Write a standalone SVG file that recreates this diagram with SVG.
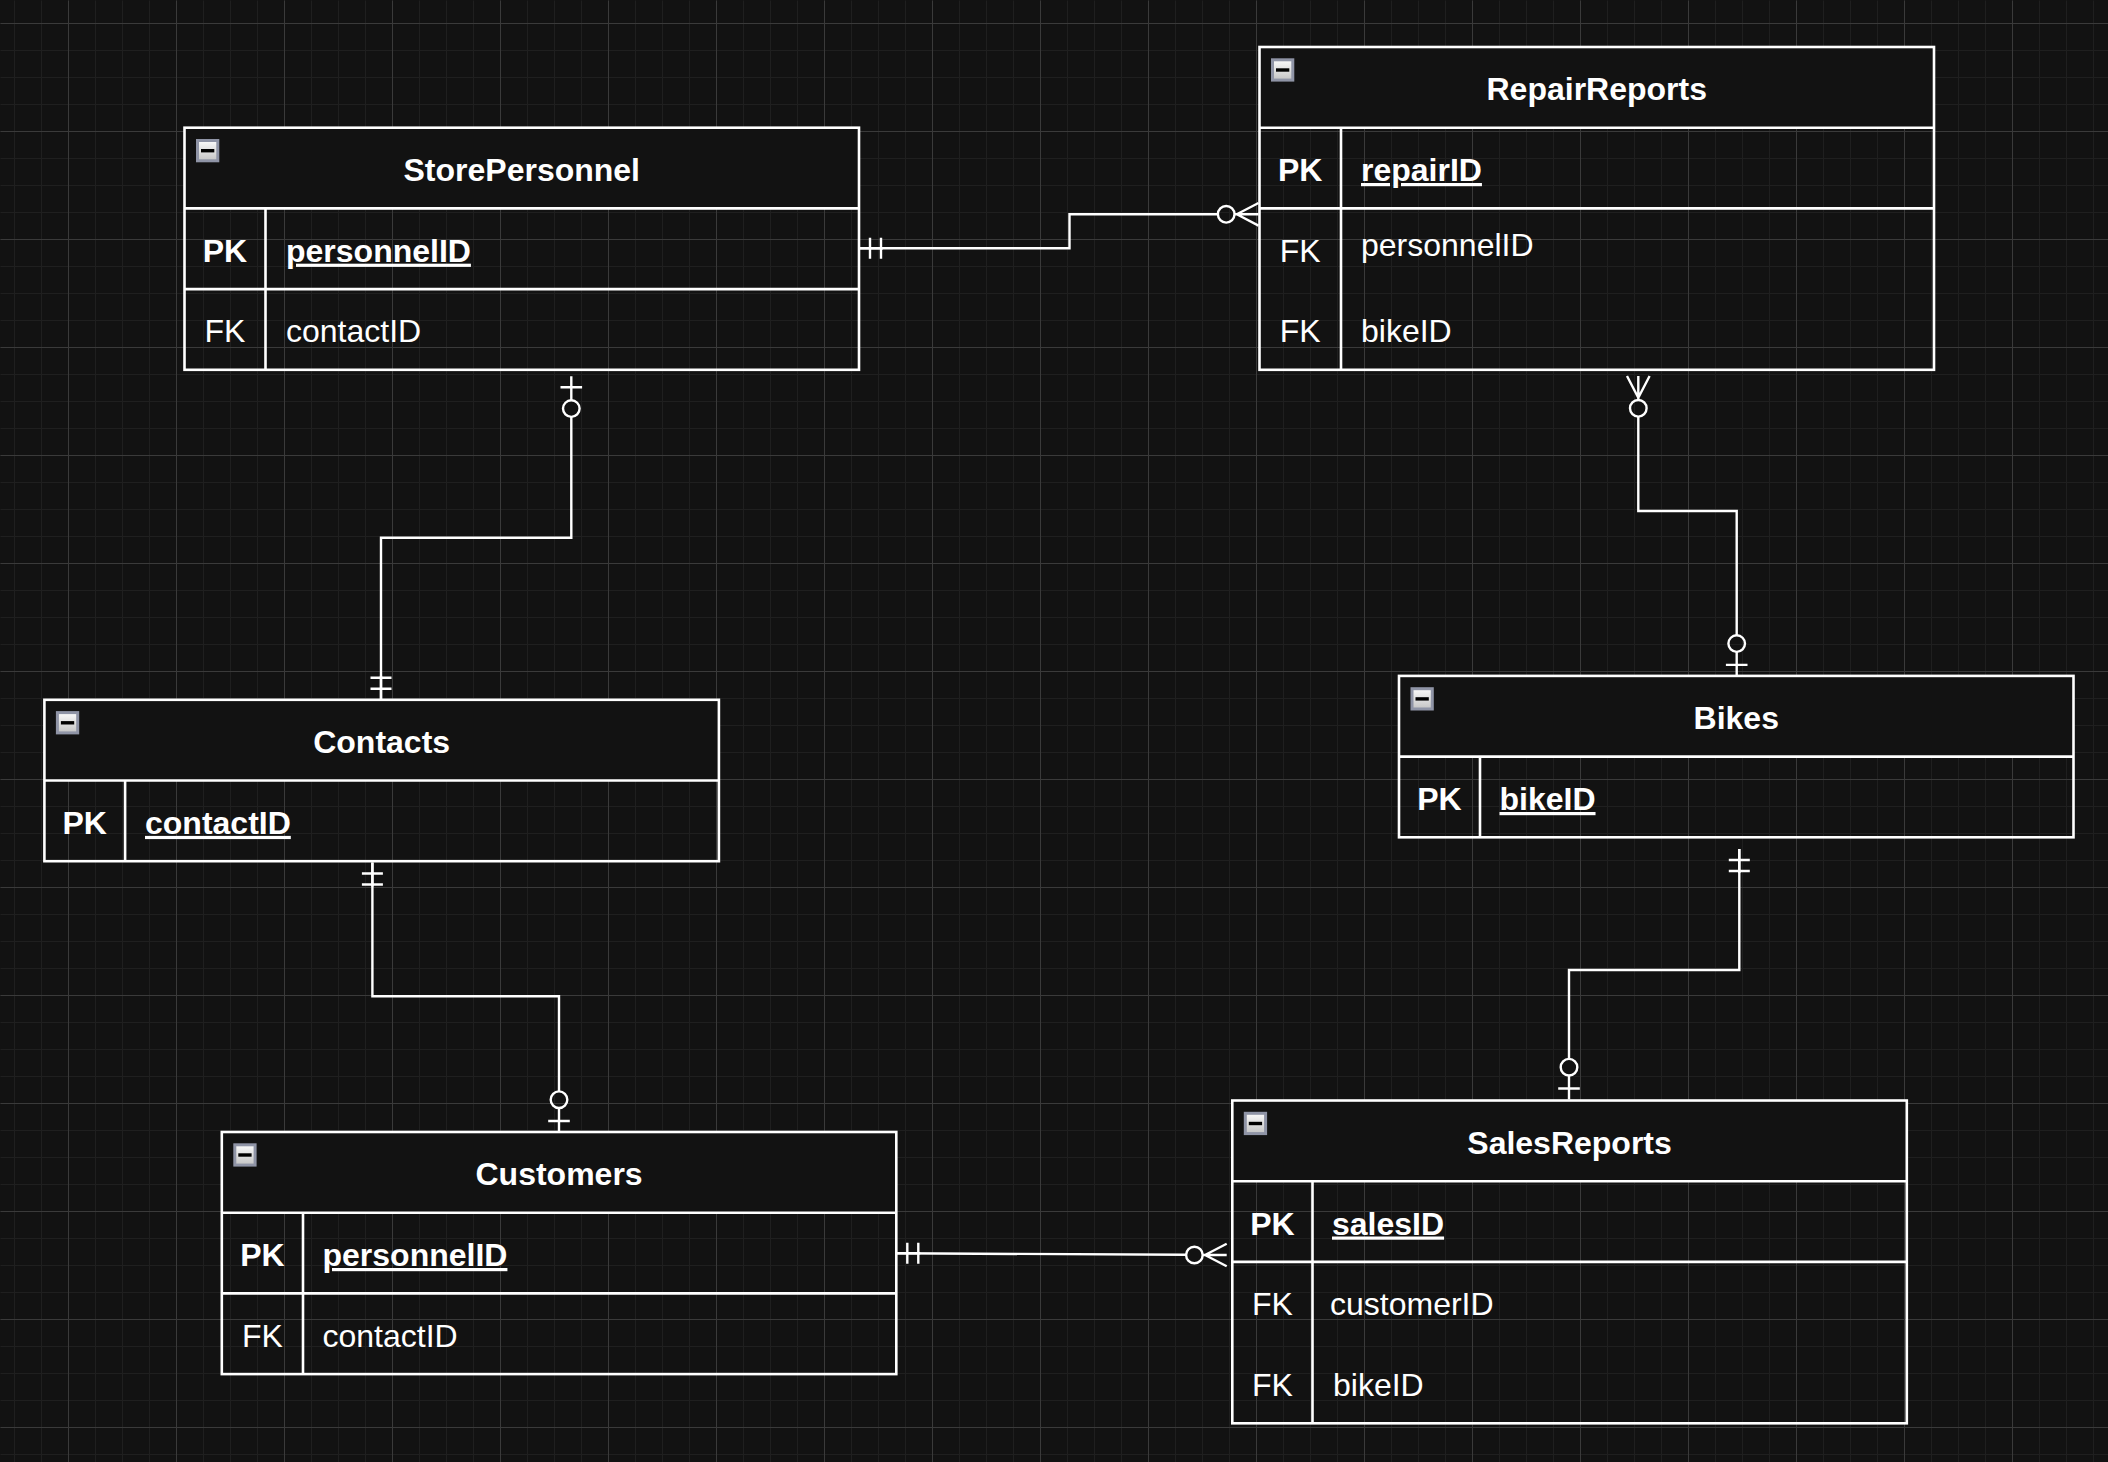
<svg xmlns="http://www.w3.org/2000/svg" xmlns:xlink="http://www.w3.org/1999/xlink" width="2108" height="1462" viewBox="0 0 2108 1462">
<defs>
<style>
.bg{fill:#121212}
.gmin{fill:none;stroke:#1f1f1f;stroke-width:1}
.gmaj{fill:none;stroke:#3a3a3a;stroke-width:1}
.hd{fill:#121212;stroke:none}
.bx{fill:none;stroke:#ffffff;stroke-width:2.6}
.sep{fill:none;stroke:#ffffff;stroke-width:2.6}
.con{fill:none;stroke:#ffffff;stroke-width:2.4}
text{font-family:"Liberation Sans",Arial,Helvetica,sans-serif;font-size:32px;fill:#ffffff}
.t{font-weight:bold;text-anchor:middle}
.k{font-weight:bold;text-anchor:middle}
.kf{text-anchor:middle}
.pk{font-weight:bold;text-decoration:underline}
</style>
<linearGradient id="ig" x1="0" y1="0" x2="0" y2="1">
<stop offset="0" stop-color="#fbfbfb"/>
<stop offset="1" stop-color="#c4c4c4"/>
</linearGradient>
<g id="icon">
<rect x="1.5" y="1.5" width="20.3" height="20.3" fill="url(#ig)" stroke="#8f94a6" stroke-width="3"/>
<rect x="5" y="10" width="13.3" height="3.4" fill="#000000"/>
</g>
<g id="mOne" fill="none" stroke="#ffffff" stroke-width="2.4">
<path d="M-11 -10.5V10.5M-22 -10.5V10.5M-24 0H0"/>
</g>
<g id="zOne" fill="none" stroke="#ffffff" stroke-width="2.4">
<path d="M-11 -10.8V10.8M-24 0H0"/>
<circle cx="-32.3" cy="0" r="8.3"/>
</g>
<g id="zMany" fill="none" stroke="#ffffff" stroke-width="2.4">
<path d="M-21.7 0L0 -11.3M-21.7 0L0 11.3M-24 0H0"/>
<circle cx="-32.3" cy="0" r="8.3"/>
</g>
</defs>

<rect class="bg" x="0" y="0" width="2108" height="1462"/>

<g id="grid" transform="translate(0.5,0.5)">
<path class="gmin" d="M14 0v1462m27-1462v1462m27-1462v1462m27-1462v1462m27-1462v1462m27-1462v1462m27-1462v1462m27-1462v1462m27-1462v1462m27-1462v1462m27-1462v1462m27-1462v1462m27-1462v1462m27-1462v1462m27-1462v1462m27-1462v1462m27-1462v1462m27-1462v1462m27-1462v1462m27-1462v1462m27-1462v1462m27-1462v1462m27-1462v1462m27-1462v1462m27-1462v1462m27-1462v1462m27-1462v1462m27-1462v1462m27-1462v1462m27-1462v1462m27-1462v1462m27-1462v1462m27-1462v1462m27-1462v1462m27-1462v1462m27-1462v1462m27-1462v1462m27-1462v1462m27-1462v1462m27-1462v1462m27-1462v1462m27-1462v1462m27-1462v1462m27-1462v1462m27-1462v1462m27-1462v1462m27-1462v1462m27-1462v1462m27-1462v1462m27-1462v1462m27-1462v1462m27-1462v1462m27-1462v1462m27-1462v1462m27-1462v1462m27-1462v1462m27-1462v1462m27-1462v1462m27-1462v1462m27-1462v1462m27-1462v1462m27-1462v1462m27-1462v1462m27-1462v1462m27-1462v1462m27-1462v1462m27-1462v1462m27-1462v1462m27-1462v1462m27-1462v1462m27-1462v1462m27-1462v1462m27-1462v1462m27-1462v1462m27-1462v1462m27-1462v1462m27-1462v1462m27-1462v1462m27-1462v1462"/>
<path class="gmin" d="M0 23h2108m-2108 27h2108m-2108 27h2108m-2108 27h2108m-2108 27h2108m-2108 27h2108m-2108 27h2108m-2108 27h2108m-2108 27h2108m-2108 27h2108m-2108 27h2108m-2108 27h2108m-2108 27h2108m-2108 27h2108m-2108 27h2108m-2108 27h2108m-2108 27h2108m-2108 27h2108m-2108 27h2108m-2108 27h2108m-2108 27h2108m-2108 27h2108m-2108 27h2108m-2108 27h2108m-2108 27h2108m-2108 27h2108m-2108 27h2108m-2108 27h2108m-2108 27h2108m-2108 27h2108m-2108 27h2108m-2108 27h2108m-2108 27h2108m-2108 27h2108m-2108 27h2108m-2108 27h2108m-2108 27h2108m-2108 27h2108m-2108 27h2108m-2108 27h2108m-2108 27h2108m-2108 27h2108m-2108 27h2108m-2108 27h2108m-2108 27h2108m-2108 27h2108m-2108 27h2108m-2108 27h2108m-2108 27h2108m-2108 27h2108m-2108 27h2108m-2108 27h2108m-2108 27h2108m-2108 27h2108"/>
<path class="gmaj" d="M68 0v1462m108-1462v1462m108-1462v1462m108-1462v1462m108-1462v1462m108-1462v1462m108-1462v1462m108-1462v1462m108-1462v1462m108-1462v1462m108-1462v1462m108-1462v1462m108-1462v1462m108-1462v1462m108-1462v1462m108-1462v1462m108-1462v1462m108-1462v1462m108-1462v1462"/>
<path class="gmaj" d="M0 23h2108m-2108 108h2108m-2108 108h2108m-2108 108h2108m-2108 108h2108m-2108 108h2108m-2108 108h2108m-2108 108h2108m-2108 108h2108m-2108 108h2108m-2108 108h2108m-2108 108h2108m-2108 108h2108m-2108 108h2108"/>
</g>

<g id="connectors">
<path class="con" d="M859 248.3H1069.5V214.3H1217.9"/>
<use xlink:href="#mOne" href="#mOne" transform="translate(859,248.3) rotate(180)"/>
<use xlink:href="#zMany" href="#zMany" transform="translate(1258.5,214.3)"/>

<path class="con" d="M571.3 416.9V537.8H381V699.8"/>
<use xlink:href="#zOne" href="#zOne" transform="translate(571.3,376.3) rotate(-90)"/>
<use xlink:href="#mOne" href="#mOne" transform="translate(381,699.8) rotate(90)"/>

<path class="con" d="M1638.3 416.6V511H1736.7V635.3"/>
<use xlink:href="#zMany" href="#zMany" transform="translate(1638.3,376) rotate(-90)"/>
<use xlink:href="#zOne" href="#zOne" transform="translate(1736.7,675.9) rotate(90)"/>

<path class="con" d="M1739.3 849V970H1569V1058.9"/>
<use xlink:href="#mOne" href="#mOne" transform="translate(1739.3,849) rotate(-90)"/>
<use xlink:href="#zOne" href="#zOne" transform="translate(1569,1099.5) rotate(90)"/>

<path class="con" d="M372.4 862.5V996.2H559V1091.4"/>
<use xlink:href="#mOne" href="#mOne" transform="translate(372.4,862.5) rotate(-90)"/>
<use xlink:href="#zOne" href="#zOne" transform="translate(559,1132) rotate(90)"/>

<path class="con" d="M896.3 1253.3L1186.1 1254.8"/>
<use xlink:href="#mOne" href="#mOne" transform="translate(896.3,1253.3) rotate(180)"/>
<use xlink:href="#zMany" href="#zMany" transform="translate(1226.7,1255)"/>
</g>

<g id="StorePersonnel">
<rect class="hd" x="184.5" y="127.7" width="674.5" height="80.7"/>
<rect class="bx" x="184.5" y="127.7" width="674.5" height="242.1"/>
<path class="sep" d="M184.5 208.4H859M184.5 289.1H859M265.5 208.4V369.8"/>
<use xlink:href="#icon" href="#icon" x="196" y="139"/>
<text class="t" x="521.75" y="181">StorePersonnel</text>
<text class="k" x="225" y="261.7">PK</text>
<text class="pk" x="286" y="261.7">personnelID</text>
<text class="kf" x="225" y="342.4">FK</text>
<text x="286" y="342.4">contactID</text>
</g>

<g id="RepairReports">
<rect class="hd" x="1259.5" y="47" width="674.5" height="80.7"/>
<rect class="bx" x="1259.5" y="47" width="674.5" height="322.8"/>
<path class="sep" d="M1259.5 127.7H1934M1259.5 208.4H1934M1341 127.7V369.8"/>
<use xlink:href="#icon" href="#icon" x="1271" y="58.3"/>
<text class="t" x="1596.75" y="100.3">RepairReports</text>
<text class="k" x="1300.25" y="181">PK</text>
<text class="pk" x="1361" y="181">repairID</text>
<text class="kf" x="1300.25" y="261.7">FK</text>
<text x="1361" y="256">personnelID</text>
<text class="kf" x="1300.25" y="342.4">FK</text>
<text x="1361" y="342.4">bikeID</text>
</g>

<g id="Contacts">
<rect class="hd" x="44.4" y="699.8" width="674.5" height="80.7"/>
<rect class="bx" x="44.4" y="699.8" width="674.5" height="161.4"/>
<path class="sep" d="M44.4 780.5H718.9M125.1 780.5V861.2"/>
<use xlink:href="#icon" href="#icon" x="55.9" y="711.1"/>
<text class="t" x="381.65" y="753.2">Contacts</text>
<text class="k" x="84.75" y="833.9">PK</text>
<text class="pk" x="145" y="833.9">contactID</text>
</g>

<g id="Bikes">
<rect class="hd" x="1399" y="675.9" width="674.5" height="80.7"/>
<rect class="bx" x="1399" y="675.9" width="674.5" height="161.4"/>
<path class="sep" d="M1399 756.6H2073.5M1480 756.6V837.3"/>
<use xlink:href="#icon" href="#icon" x="1410.5" y="687.2"/>
<text class="t" x="1736.25" y="729.3">Bikes</text>
<text class="k" x="1439.5" y="810">PK</text>
<text class="pk" x="1499.5" y="810">bikeID</text>
</g>

<g id="Customers">
<rect class="hd" x="221.8" y="1132" width="674.5" height="80.7"/>
<rect class="bx" x="221.8" y="1132" width="674.5" height="242.1"/>
<path class="sep" d="M221.8 1212.7H896.3M221.8 1293.4H896.3M303 1212.7V1374.1"/>
<use xlink:href="#icon" href="#icon" x="233.3" y="1143.3"/>
<text class="t" x="559.05" y="1185.4">Customers</text>
<text class="k" x="262.4" y="1266">PK</text>
<text class="pk" x="322.5" y="1266">personnelID</text>
<text class="kf" x="262.4" y="1346.8">FK</text>
<text x="322.5" y="1346.8">contactID</text>
</g>

<g id="SalesReports">
<rect class="hd" x="1232.3" y="1100.5" width="674.5" height="80.7"/>
<rect class="bx" x="1232.3" y="1100.5" width="674.5" height="322.8"/>
<path class="sep" d="M1232.3 1181.2H1906.8M1232.3 1261.9H1906.8M1312.5 1181.2V1423.3"/>
<use xlink:href="#icon" href="#icon" x="1243.8" y="1111.8"/>
<text class="t" x="1569.55" y="1153.9">SalesReports</text>
<text class="k" x="1272.4" y="1234.5">PK</text>
<text class="pk" x="1332" y="1234.5">salesID</text>
<text class="kf" x="1272.4" y="1315">FK</text>
<text x="1330" y="1315">customerID</text>
<text class="kf" x="1272.4" y="1395.8">FK</text>
<text x="1333" y="1395.8">bikeID</text>
</g>
</svg>
